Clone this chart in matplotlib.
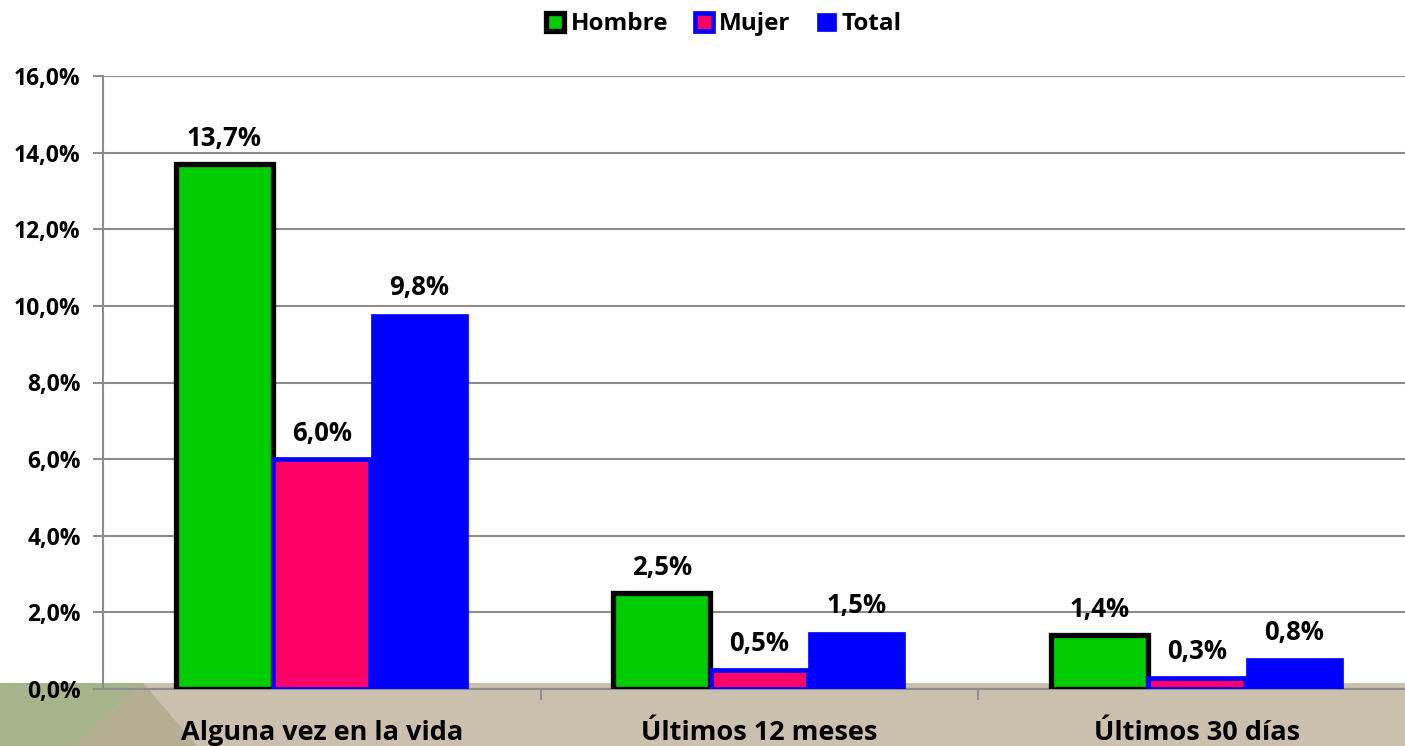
import matplotlib
matplotlib.use("Agg")
import matplotlib.pyplot as plt
from matplotlib.patches import Polygon, Rectangle
import numpy as np

categories = ["Alguna vez en la vida", "Últimos 12 meses", "Últimos 30 días"]
series_names = ["Hombre", "Mujer", "Total"]
hombre = [13.7, 2.5, 1.4]
mujer = [6.0, 0.5, 0.3]
total = [9.8, 1.5, 0.8]
yticks = [0, 2, 4, 6, 8, 10, 12, 14, 16]

plt.rcParams['font.family'] = ['Open Sans', 'DejaVu Sans']
plt.rcParams['font.weight'] = 'bold'

W, H = 1405, 746
fig = plt.figure(figsize=(W / 100, H / 100), dpi=100)
fig.patch.set_facecolor("white")

def fx(px):
    return px / W
def fy(py):
    return 1 - py / H

# background band at bottom (drawn on an underlying axes)
bg = fig.add_axes([0, 0, 1, 1], zorder=-5)
bg.set_xlim(0, 1); bg.set_ylim(0, 1); bg.axis("off")
bg.add_patch(Rectangle((0, 0), 1, fy(683), facecolor="#CBBFAE", edgecolor="none"))
bg.add_patch(Polygon([(fx(0), fy(683)), (fx(143), fy(683)), (fx(73), fy(746)), (fx(0), fy(746))],
                     closed=True, facecolor="#A7B48C", edgecolor="none"))
bg.add_patch(Polygon([(fx(143), fy(683)), (fx(197), fy(746)), (fx(73), fy(746))],
                     closed=True, facecolor="#B6AE92", edgecolor="none"))

ax = fig.add_axes([103 / W, 57 / H, 1312.5 / W, 613 / H], zorder=1)
ax.set_facecolor("none")

x = np.arange(len(categories))
bw = 0.222
off = 0.223

b1 = ax.bar(x - off, hombre, bw, color="#00CC00", edgecolor="black", linewidth=3.8, zorder=3,
            label=series_names[0])
b2 = ax.bar(x, mujer, bw, color="#FF0066", edgecolor="#0000FF", linewidth=3.4, zorder=3,
            label=series_names[1])
b3 = ax.bar(x + off, total, bw, color="#0000FF", edgecolor="#0000FF", linewidth=0.5, zorder=3,
            label=series_names[2])

def fmt(v):
    return f"{v:.1f}%".replace(".", ",")

for bars, vals in [(b1, hombre), (b2, mujer), (b3, total)]:
    for b, v in zip(bars, vals):
        ax.annotate(fmt(v), (b.get_x() + b.get_width() / 2, v), xytext=(0, 9),
                    textcoords="offset points", ha="center", va="bottom",
                    fontsize=18.5, fontweight="bold", color="black", zorder=5)

ax.set_xlim(-0.5, 2.5)
ax.set_ylim(0, 16)
ax.set_yticks(yticks)
ax.set_yticklabels([fmt(v) for v in yticks], fontsize=16.5, fontweight="bold")
ax.yaxis.grid(True, color="#8C8C8C", linewidth=1.5, zorder=1)
ax.set_axisbelow(True)

ax.set_xticks([0.5, 1.5], minor=False)
ax.set_xticklabels(["", ""])
ax.set_xticks(x, minor=True)
ax.set_xticklabels(categories, minor=True, fontsize=19.5, fontweight="bold")
ax.tick_params(axis="x", which="minor", length=0, pad=22)
ax.tick_params(axis="x", which="major", length=8, width=1.5, color="#8C8C8C")
ax.tick_params(axis="y", length=7, width=1.5, color="#8C8C8C", pad=9)

for s in ["top", "right"]:
    ax.spines[s].set_visible(False)
ax.spines["left"].set_color("#8C8C8C")
ax.spines["left"].set_linewidth(1.5)
ax.spines["bottom"].set_color("#8C8C8C")
ax.spines["bottom"].set_linewidth(1.5)

leg = fig.legend(handles=[b1, b2, b3], labels=series_names, loc="upper center",
                 bbox_to_anchor=(724 / W, 1.0), ncol=3, frameon=False,
                 fontsize=17.5, handlelength=0.75, handleheight=0.75, handletextpad=0.25,
                 columnspacing=1.1, borderaxespad=0.1)
for t in leg.get_texts():
    t.set_fontweight("bold")

fig.savefig("out.png", dpi=100)
